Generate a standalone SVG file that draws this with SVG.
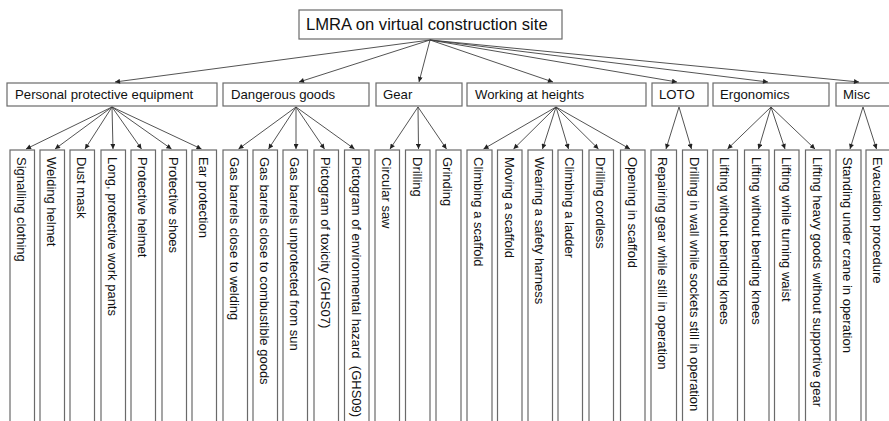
<svg xmlns="http://www.w3.org/2000/svg" width="889" height="421" viewBox="0 0 889 421">
<style>
.box{fill:#fff;stroke:#6a6a6a;stroke-width:1.2}
.t{font-family:"Liberation Sans",Arial,sans-serif;fill:#111}
.top{font-size:16.6px}
.cat{font-size:13.2px}
.leaf{font-size:13px}
.c line{stroke:#404040;stroke-width:0.9;marker-end:url(#ah)}
</style>
<defs>
<marker id="ah" viewBox="0 0 10 10" refX="10" refY="5" markerWidth="6" markerHeight="5" markerUnits="userSpaceOnUse" orient="auto">
<path d="M0,0 L10,5 L0,10 z" fill="#222"/>
</marker>
</defs>
<rect width="889" height="421" fill="#fff"/>

<g id="root"><rect class="box" x="299" y="10" width="263" height="29"/><text class="t top" x="306" y="30">LMRA on virtual construction site</text></g>

<g id="cat-ppe"><rect class="box" x="7" y="83" width="210" height="23"/><text class="t cat" x="15" y="99">Personal protective equipment</text></g>
<g id="cat-dg"><rect class="box" x="223" y="83" width="146" height="23"/><text class="t cat" x="231" y="99">Dangerous goods</text></g>
<g id="cat-gear"><rect class="box" x="376" y="83" width="86" height="23"/><text class="t cat" x="383" y="99">Gear</text></g>
<g id="cat-wah"><rect class="box" x="467" y="83" width="179" height="23"/><text class="t cat" x="475" y="99">Working at heights</text></g>
<g id="cat-loto"><rect class="box" x="652" y="83" width="56" height="23"/><text class="t cat" x="659" y="99">LOTO</text></g>
<g id="cat-ergo"><rect class="box" x="713" y="83" width="116" height="23"/><text class="t cat" x="720" y="99">Ergonomics</text></g>
<g id="cat-misc"><rect class="box" x="836" y="83" width="54" height="23"/><text class="t cat" x="843" y="99">Misc</text></g>

<g class="c" id="connectors">
<line x1="430" y1="40" x2="115" y2="82"/>
<line x1="430" y1="40" x2="299" y2="82"/>
<line x1="430" y1="40" x2="419" y2="82"/>
<line x1="430" y1="40" x2="553" y2="82"/>
<line x1="430" y1="40" x2="677" y2="82"/>
<line x1="430" y1="40" x2="768" y2="82"/>
<line x1="430" y1="40" x2="859" y2="82"/>

<line x1="112" y1="107" x2="26" y2="149"/>
<line x1="112" y1="107" x2="55" y2="149"/>
<line x1="112" y1="107" x2="85" y2="149"/>
<line x1="112" y1="107" x2="113" y2="149"/>
<line x1="112" y1="107" x2="141.5" y2="149"/>
<line x1="112" y1="107" x2="171.5" y2="149"/>
<line x1="112" y1="107" x2="201.5" y2="149"/>

<line x1="296" y1="107" x2="238.5" y2="149"/>
<line x1="296" y1="107" x2="268.5" y2="149"/>
<line x1="296" y1="107" x2="296" y2="149"/>
<line x1="296" y1="107" x2="324.5" y2="149"/>
<line x1="296" y1="107" x2="354.5" y2="149"/>

<line x1="418" y1="107" x2="390" y2="149"/>
<line x1="418" y1="107" x2="418.5" y2="149"/>
<line x1="418" y1="107" x2="446.5" y2="149"/>

<line x1="556" y1="107" x2="483.5" y2="149"/>
<line x1="556" y1="107" x2="513.5" y2="149"/>
<line x1="556" y1="107" x2="542.5" y2="149"/>
<line x1="556" y1="107" x2="568.5" y2="149"/>
<line x1="556" y1="107" x2="598.5" y2="149"/>
<line x1="556" y1="107" x2="630" y2="149"/>

<line x1="679" y1="107" x2="666" y2="149"/>
<line x1="679" y1="107" x2="691.5" y2="149"/>

<line x1="771" y1="107" x2="727.5" y2="149"/>
<line x1="771" y1="107" x2="758.5" y2="149"/>
<line x1="771" y1="107" x2="785" y2="149"/>
<line x1="771" y1="107" x2="815" y2="149"/>

<line x1="863" y1="107" x2="850" y2="149"/>
<line x1="863" y1="107" x2="876.5" y2="149"/>
</g>

<g id="leaf-01"><rect class="box" x="10" y="150" width="24.5" height="290"/><text class="t leaf" transform="translate(17,157) rotate(90)">Signalling clothing</text></g>
<g id="leaf-02"><rect class="box" x="40" y="150" width="24.5" height="290"/><text class="t leaf" transform="translate(47,157) rotate(90)">Welding helmet</text></g>
<g id="leaf-03"><rect class="box" x="70" y="150" width="24.5" height="290"/><text class="t leaf" transform="translate(77,157) rotate(90)">Dust mask</text></g>
<g id="leaf-04"><rect class="box" x="101" y="150" width="24.5" height="290"/><text class="t leaf" transform="translate(108,157) rotate(90)">Long, protective work pants</text></g>
<g id="leaf-05"><rect class="box" x="131" y="150" width="24.5" height="290"/><text class="t leaf" transform="translate(138,157) rotate(90)">Protective helmet</text></g>
<g id="leaf-06"><rect class="box" x="162" y="150" width="24.5" height="290"/><text class="t leaf" transform="translate(169,157) rotate(90)">Protective shoes</text></g>
<g id="leaf-07"><rect class="box" x="192" y="150" width="24.5" height="290"/><text class="t leaf" transform="translate(199,157) rotate(90)">Ear protection</text></g>
<g id="leaf-08"><rect class="box" x="223" y="150" width="24.5" height="290"/><text class="t leaf" transform="translate(230,157) rotate(90)">Gas barrels close to welding</text></g>
<g id="leaf-09"><rect class="box" x="253" y="150" width="24.5" height="290"/><text class="t leaf" transform="translate(260,157) rotate(90)">Gas barrels close to combustible goods</text></g>
<g id="leaf-10"><rect class="box" x="283" y="150" width="24.5" height="290"/><text class="t leaf" transform="translate(290,157) rotate(90)">Gas barrels unprotected from sun</text></g>
<g id="leaf-11"><rect class="box" x="314" y="150" width="24.5" height="290"/><text class="t leaf" transform="translate(321,157) rotate(90)">Pictogram of toxicity (GHS07)</text></g>
<g id="leaf-12"><rect class="box" x="344.5" y="150" width="24.5" height="290"/><text class="t leaf" transform="translate(351.5,157) rotate(90)" xml:space="preserve">Pictogram of environmental hazard  (GHS09)</text></g>
<g id="leaf-13"><rect class="box" x="375" y="150" width="24.5" height="290"/><text class="t leaf" transform="translate(382,157) rotate(90)">Circular saw</text></g>
<g id="leaf-14"><rect class="box" x="405.5" y="150" width="24.5" height="290"/><text class="t leaf" transform="translate(412.5,157) rotate(90)">Drilling</text></g>
<g id="leaf-15"><rect class="box" x="436" y="150" width="25" height="290"/><text class="t leaf" transform="translate(443,157) rotate(90)">Grinding</text></g>
<g id="leaf-16"><rect class="box" x="467" y="150" width="25" height="290"/><text class="t leaf" transform="translate(474,157) rotate(90)">Climbing a scaffold</text></g>
<g id="leaf-17"><rect class="box" x="497.5" y="150" width="24.5" height="290"/><text class="t leaf" transform="translate(504.5,157) rotate(90)">Moving a scaffold</text></g>
<g id="leaf-18"><rect class="box" x="528" y="150" width="24.5" height="290"/><text class="t leaf" transform="translate(535,157) rotate(90)">Wearing a safety harness</text></g>
<g id="leaf-19"><rect class="box" x="558" y="150" width="24.5" height="290"/><text class="t leaf" transform="translate(565,157) rotate(90)">Climbing a ladder</text></g>
<g id="leaf-20"><rect class="box" x="589" y="150" width="24.5" height="290"/><text class="t leaf" transform="translate(596,157) rotate(90)">Drilling cordless</text></g>
<g id="leaf-21"><rect class="box" x="620.5" y="150" width="24.5" height="290"/><text class="t leaf" transform="translate(627.5,157) rotate(90)">Opening in scaffold</text></g>
<g id="leaf-22"><rect class="box" x="651" y="150" width="25.5" height="290"/><text class="t leaf" transform="translate(658,157) rotate(90)">Repairing gear while still in operation</text></g>
<g id="leaf-23"><rect class="box" x="682.5" y="150" width="25" height="290"/><text class="t leaf" transform="translate(689.5,157) rotate(90)">Drilling in wall while sockets still in operation</text></g>
<g id="leaf-24"><rect class="box" x="713" y="150" width="24.5" height="290"/><text class="t leaf" transform="translate(720,157) rotate(90)">Lifting without bending knees</text></g>
<g id="leaf-25"><rect class="box" x="744.5" y="150" width="24.5" height="290"/><text class="t leaf" transform="translate(751.5,157) rotate(90)">Lifting without bending knees</text></g>
<g id="leaf-26"><rect class="box" x="774.5" y="150" width="24.5" height="290"/><text class="t leaf" transform="translate(781.5,157) rotate(90)">Lifting while turning waist</text></g>
<g id="leaf-27"><rect class="box" x="805.5" y="150" width="24.5" height="290"/><text class="t leaf" transform="translate(812.5,157) rotate(90)">Lifting heavy goods without supportive gear</text></g>
<g id="leaf-28"><rect class="box" x="836" y="150" width="25" height="290"/><text class="t leaf" transform="translate(843,157) rotate(90)">Standing under crane in operation</text></g>
<g id="leaf-29"><rect class="box" x="866" y="150" width="25" height="290"/><text class="t leaf" transform="translate(873,157) rotate(90)">Evacuation procedure</text></g>
</svg>
